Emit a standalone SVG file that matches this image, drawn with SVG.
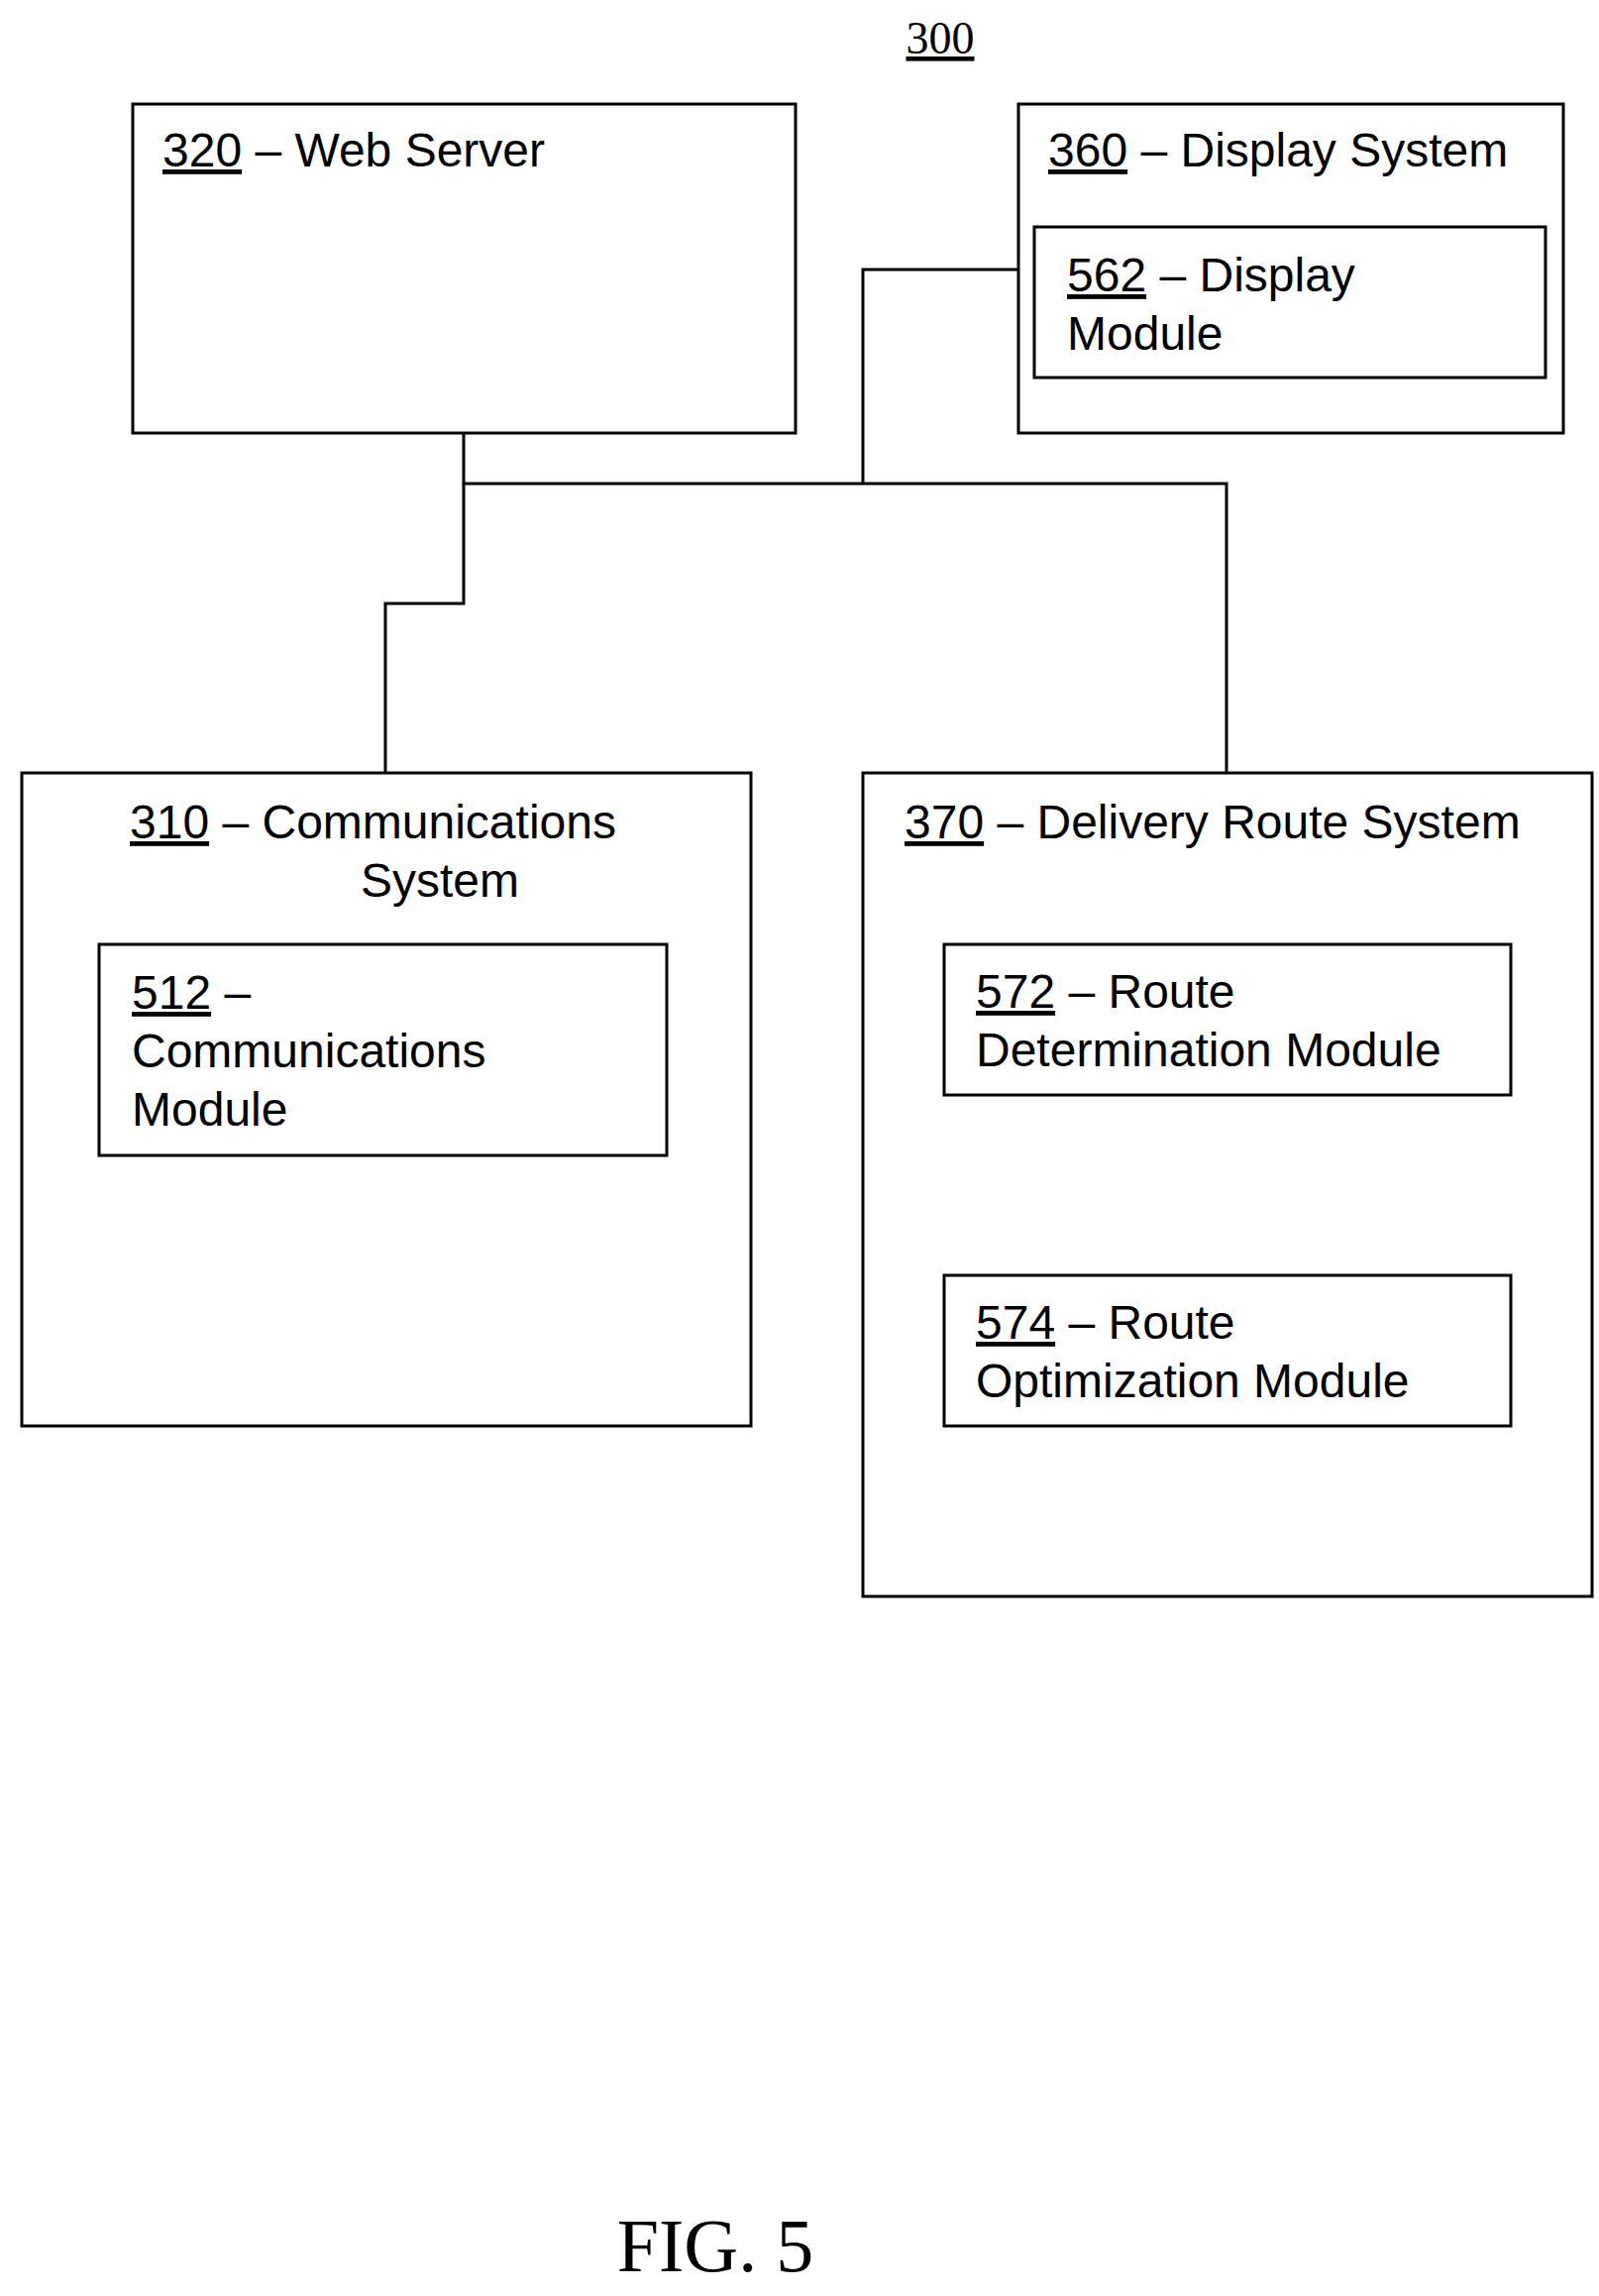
<svg xmlns="http://www.w3.org/2000/svg" width="1614" height="2317" viewBox="0 0 1614 2317">
<style>
.b{fill:none;stroke:#000;stroke-width:3}
.t{font-family:"Liberation Sans",Arial,sans-serif;font-size:48px;fill:#000}
.u{text-decoration:underline}
.c{fill:none;stroke:#000;stroke-width:3}
</style>
<rect width="1614" height="2317" fill="#fff"/>
<text x="949" y="54" text-anchor="middle" style="font-family:'Liberation Serif',serif;font-size:46px;text-decoration:underline">300</text>
<g id="connectors">
<path class="c" d="M468 437 V488 H1238 V780"/>
<path class="c" d="M871 488 V272 H1028"/>
<path class="c" d="M468 488 V609 H389 V780"/>
</g>
<g id="n320"><rect class="b" x="134" y="105" width="669" height="332"/>
<text class="t" x="164" y="168"><tspan class="u">320</tspan> – Web Server</text></g>
<g id="n360"><rect class="b" x="1028" y="105" width="550" height="332"/>
<text class="t" x="1058" y="168"><tspan class="u">360</tspan> – Display System</text></g>
<g id="n562"><rect class="b" x="1044" y="229" width="516" height="152"/>
<text class="t" x="1077" y="294"><tspan class="u">562</tspan> – Display</text>
<text class="t" x="1077" y="353">Module</text></g>
<g id="n310"><rect class="b" x="22" y="780" width="736" height="659"/>
<text class="t" x="131" y="846"><tspan class="u">310</tspan> – Communications</text>
<text class="t" x="364" y="905">System</text></g>
<g id="n512"><rect class="b" x="100" y="953" width="573" height="213"/>
<text class="t" x="133" y="1018"><tspan class="u">512</tspan> –</text>
<text class="t" x="133" y="1077">Communications</text>
<text class="t" x="133" y="1136">Module</text></g>
<g id="n370"><rect class="b" x="871" y="780" width="736" height="831"/>
<text class="t" x="913" y="846"><tspan class="u">370</tspan> – Delivery Route System</text></g>
<g id="n572"><rect class="b" x="953" y="953" width="572" height="152"/>
<text class="t" x="985" y="1017"><tspan class="u">572</tspan> – Route</text>
<text class="t" x="985" y="1076">Determination  Module</text></g>
<g id="n574"><rect class="b" x="953" y="1287" width="572" height="152"/>
<text class="t" x="985" y="1351"><tspan class="u">574</tspan> – Route</text>
<text class="t" x="985" y="1410">Optimization Module</text></g>
<text x="722" y="2292" text-anchor="middle" style="font-family:'Liberation Serif',serif;font-size:76px">FIG. 5</text>
</svg>
